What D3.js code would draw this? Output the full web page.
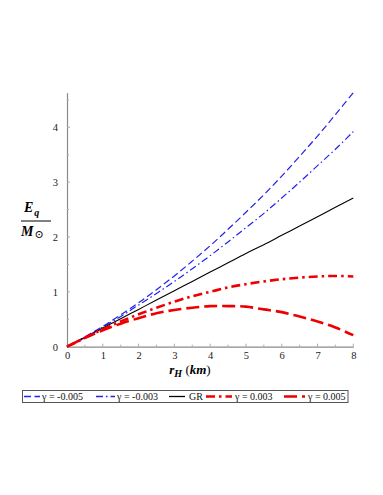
<!DOCTYPE html>
<html lang="en">
<head>
<meta charset="UTF-8">
<title>Eq vs rH</title>
<style>
  body { margin: 0; background: #fff; }
  text { font-family: "Liberation Serif", "DejaVu Serif", serif; }
</style>
</head>
<body>
<script src="https://d3js.org/d3.v7.min.js"></script>
<script>
// radius r_H (km)
const rValues = [0, 0.5, 1, 1.5, 2, 2.5, 3, 3.5, 4, 4.5, 5, 5.5, 6, 6.5, 7, 7.5, 8];
const gammaM005 = [0, 0.18, 0.37, 0.58, 0.80, 1.04, 1.29, 1.56, 1.84, 2.14, 2.45, 2.77, 3.11, 3.47, 3.84, 4.23, 4.63];
const gammaM003 = [0, 0.17, 0.36, 0.55, 0.76, 0.97, 1.19, 1.42, 1.66, 1.91, 2.17, 2.43, 2.71, 3.00, 3.30, 3.60, 3.92];
const grValues = [0, 0.17, 0.34, 0.51, 0.68, 0.85, 1.02, 1.19, 1.36, 1.53, 1.70, 1.86, 2.03, 2.20, 2.37, 2.54, 2.71];
const gammaP003 = [0, 0.16, 0.32, 0.46, 0.59, 0.71, 0.82, 0.92, 1.00, 1.08, 1.14, 1.19, 1.23, 1.26, 1.28, 1.29, 1.28];
const gammaP005 = [0, 0.16, 0.30, 0.42, 0.52, 0.61, 0.67, 0.71, 0.74, 0.74, 0.73, 0.68, 0.63, 0.55, 0.46, 0.35, 0.21];
const seriesNames = ['γ = -0.005', 'γ = -0.003', 'GR', 'γ = 0.003', 'γ = 0.005'];
const xTicks = [0, 1, 2, 3, 4, 5, 6, 7, 8];
const yTicks = [0, 1, 2, 3, 4];

const width = 383, height = 495;

const svg = d3.select('body').append('svg')
  .attr('width', width)
  .attr('height', height);

const x = d3.scaleLinear().domain([0, 8]).range([67, 353.3]);
const y = d3.scaleLinear().domain([0, 4.63]).range([346.7, 92.7]);

const styles = [
  { color: '#2222ee', width: 1.2, dash: '7,3.5' },
  { color: '#2222ee', width: 1.2, dash: '7,3,1.5,3' },
  { color: '#000000', width: 1.1, dash: null },
  { color: '#ee0000', width: 2.6, dash: '9,4,2.5,4' },
  { color: '#ee0000', width: 2.6, dash: '13,5' }
];
const allSeries = [gammaM005, gammaM003, grValues, gammaP003, gammaP005];

// axes
const axisColor = '#8a8a8a';
const xAxis = svg.append('g').attr('transform', `translate(0,${y(0)})`)
  .call(d3.axisBottom(x).tickValues(xTicks).tickSize(0).tickPadding(5).tickFormat(d3.format('d')));
const yAxis = svg.append('g').attr('transform', `translate(${x(0)},0)`)
  .call(d3.axisLeft(y).tickValues(yTicks).tickSize(0).tickPadding(9).tickFormat(d3.format('d')));
[xAxis, yAxis].forEach(a => {
  a.select('.domain').attr('stroke', axisColor).attr('stroke-width', 1.2);
  a.selectAll('text').attr('font-size', 10.5).attr('fill', '#222');
});

// small inward ticks every 0.5
svg.append('g').selectAll('line')
  .data(d3.range(0.5, 8.01, 0.5))
  .join('line')
  .attr('x1', d => x(d)).attr('x2', d => x(d))
  .attr('y1', y(0)).attr('y2', d => y(0) - (d % 1 === 0 ? 3 : 2))
  .attr('stroke', '#aaa').attr('stroke-width', 1);
svg.append('g').selectAll('line')
  .data(d3.range(0.5, 4.51, 0.5))
  .join('line')
  .attr('x1', x(0)).attr('x2', d => x(0) + (d % 1 === 0 ? 3 : 2))
  .attr('y1', d => y(d)).attr('y2', d => y(d))
  .attr('stroke', '#aaa').attr('stroke-width', 1);

// curves
const line = d3.line()
  .x((d, i) => x(rValues[i]))
  .y(d => y(d))
  .curve(d3.curveCatmullRom);

svg.append('g').selectAll('path')
  .data(allSeries)
  .join('path')
  .attr('d', d => line(d))
  .attr('fill', 'none')
  .attr('stroke', (d, i) => styles[i].color)
  .attr('stroke-width', (d, i) => styles[i].width)
  .attr('stroke-dasharray', (d, i) => styles[i].dash);

// x label
const xl = svg.append('text')
  .attr('x', 190).attr('y', 374)
  .attr('text-anchor', 'middle')
  .attr('font-size', 13)
  .attr('font-weight', 'bold')
  .attr('font-style', 'italic');
xl.append('tspan').text('r');
xl.append('tspan').attr('font-size', 10).attr('dy', 3).text('H');
xl.append('tspan').attr('dy', -3).attr('font-weight', 'normal').attr('font-style', 'normal').text(' (');
xl.append('tspan').text('km');
xl.append('tspan').attr('font-weight', 'normal').attr('font-style', 'normal').text(')');

// y label as fraction
const yl = svg.append('g').attr('font-weight', 'bold').attr('font-style', 'italic');
const eq = yl.append('text').attr('x', 24).attr('y', 212).attr('font-size', 14);
eq.append('tspan').text('E');
eq.append('tspan').attr('font-size', 10).attr('dy', 4).attr('dx', 1).text('q');
yl.append('line')
  .attr('x1', 21).attr('x2', 51).attr('y1', 221).attr('y2', 221)
  .attr('stroke', '#000').attr('stroke-width', 1);
const ms = yl.append('text').attr('x', 21).attr('y', 236).attr('font-size', 14);
ms.append('tspan').text('M');
ms.append('tspan').attr('font-size', 11).attr('font-style', 'normal').attr('font-weight', 'normal')
  .attr('dy', 2).attr('dx', 1).text('⊙');

// legend
const legend = svg.append('g');
legend.append('rect')
  .attr('x', 22.5).attr('y', 390.5).attr('width', 325.5).attr('height', 12)
  .attr('fill', '#fff').attr('stroke', '#555').attr('stroke-width', 1);
const legendItems = [
  { x0: 24, x1: 40, tx: 42 },
  { x0: 96, x1: 115, tx: 117 },
  { x0: 169, x1: 185, tx: 189 },
  { x0: 206, x1: 232, tx: 235 },
  { x0: 284, x1: 305, tx: 308 }
];
legendItems.forEach((it, i) => {
  legend.append('line')
    .attr('x1', it.x0).attr('x2', it.x1).attr('y1', 396.5).attr('y2', 396.5)
    .attr('stroke', styles[i].color)
    .attr('stroke-width', i > 2 ? 2.4 : 1.3)
    .attr('stroke-dasharray', styles[i].dash);
  legend.append('text')
    .attr('x', it.tx).attr('y', 400)
    .attr('font-size', 10)
    .attr('fill', '#111')
    .text(seriesNames[i]);
});
</script>
</body>
</html>
